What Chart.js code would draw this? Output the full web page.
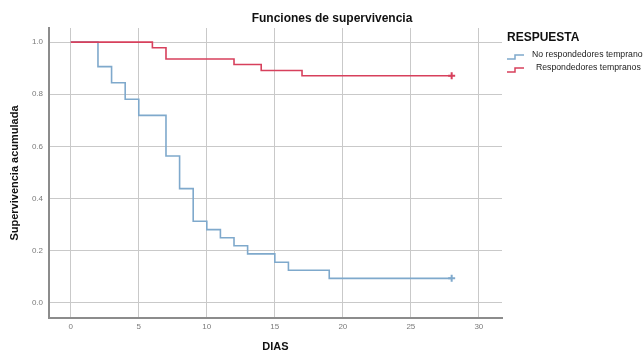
<!DOCTYPE html>
<html>
<head>
<meta charset="utf-8">
<script src="https://cdn.jsdelivr.net/npm/chart.js@4.4.1/dist/chart.umd.min.js"></script>
<style>
  html, body { margin: 0; padding: 0; background: #fff; }
  #wrap { width: 643px; height: 350px; position: relative; }
</style>
</head>
<body>
<div id="wrap"><canvas id="km"></canvas></div>
<script>
// Kaplan-Meier steps per group (day, cumulative survival)
const noRespDias = [0, 2, 3, 4, 5, 7, 8, 9, 10, 11, 12, 13, 15, 16, 19, 28];
const noRespSurv = [1.0, 0.906, 0.844, 0.781, 0.719, 0.563, 0.438, 0.313, 0.281, 0.25, 0.219, 0.188, 0.156, 0.125, 0.094, 0.094];
const respDias = [0, 6, 7, 12, 14, 17, 28];
const respSurv = [1.0, 0.978, 0.935, 0.914, 0.891, 0.871, 0.871];

const xTicks = [0, 5, 10, 15, 20, 25, 30];
const yTicks = [0.0, 0.2, 0.4, 0.6, 0.8, 1.0];

const groups = ['No respondedores tempranos', 'Respondedores tempranos'];
const colors = ['#7fa9cc', '#d7405c'];

const FONT = "'Liberation Sans', Arial, sans-serif";

const toPoints = (xs, ys) => xs.map((x, i) => ({ x: x, y: ys[i] }));

// censored mark only on the last observation
const censorRadius = (ctx) => ctx.dataIndex === ctx.dataset.data.length - 1 ? 3.5 : 0;

const textPlugin = {
  id: 'kmText',
  afterDraw(chart) {
    const c = chart.ctx;
    c.save();
    c.fillStyle = '#111';
    c.textBaseline = 'middle';
    c.font = `bold 12px ${FONT}`;
    c.textAlign = 'center';
    c.fillText('Funciones de supervivencia', 332, 19);

    // legend
    c.textAlign = 'left';
    c.font = `bold 12px ${FONT}`;
    c.fillText('RESPUESTA', 507, 38);
    c.font = `8.7px ${FONT}`;
    const rows = [{ y: 55, tx: 532 }, { y: 68, tx: 536 }];
    rows.forEach((r, i) => {
      c.strokeStyle = colors[i];
      c.lineWidth = 1.5;
      c.beginPath();
      c.moveTo(507, r.y + 4);
      c.lineTo(515, r.y + 4);
      c.lineTo(515, r.y);
      c.lineTo(524, r.y);
      c.stroke();
      c.fillStyle = '#222';
      c.fillText(groups[i], r.tx, r.y);
    });
    c.restore();
  }
};

new Chart(document.getElementById('km'), {
  type: 'line',
  data: {
    datasets: [
      {
        label: groups[0],
        data: toPoints(noRespDias, noRespSurv),
        borderColor: colors[0],
        backgroundColor: colors[0],
        borderWidth: 1.6,
        stepped: 'before',
        pointStyle: 'cross',
        pointRadius: censorRadius,
        pointBorderWidth: 2,
        order: 2
      },
      {
        label: groups[1],
        data: toPoints(respDias, respSurv),
        borderColor: colors[1],
        backgroundColor: colors[1],
        borderWidth: 1.6,
        stepped: 'before',
        pointStyle: 'cross',
        pointRadius: censorRadius,
        pointBorderWidth: 2,
        order: 1
      }
    ]
  },
  options: {
    responsive: true,
    maintainAspectRatio: false,
    animation: false,
    layout: { padding: { left: 0, right: 141, top: 28, bottom: 0 } },
    plugins: { legend: { display: false }, tooltip: { enabled: false } },
    scales: {
      x: {
        type: 'linear',
        min: -1.6,
        max: 31.7,
        afterBuildTicks: (s) => { s.ticks = xTicks.map(v => ({ value: v })); },
        afterFit: (s) => { s.height = 32; },
        grid: { color: '#c9c9c9', lineWidth: 1, drawTicks: false },
        border: { display: true, color: '#8c8c8c', width: 2 },
        ticks: { color: '#7a7a7a', font: { family: FONT, size: 8 }, padding: 4 },
        title: {
          display: true,
          text: 'DIAS',
          color: '#111',
          font: { family: FONT, size: 11, weight: 'bold' },
          padding: { top: 0, bottom: -3.5 }
        }
      },
      y: {
        min: -0.058,
        max: 1.054,
        afterBuildTicks: (s) => { s.ticks = yTicks.map(v => ({ value: v })); },
        afterFit: (s) => { s.width = 49; },
        grid: { color: '#c9c9c9', lineWidth: 1, drawTicks: false },
        border: { display: true, color: '#8c8c8c', width: 2 },
        ticks: {
          color: '#7a7a7a',
          font: { family: FONT, size: 8 },
          padding: 6,
          callback: (v) => v.toFixed(1)
        },
        title: {
          display: true,
          text: 'Supervivencia acumulada',
          color: '#111',
          font: { family: FONT, size: 11, weight: 'bold' },
          padding: { top: 8.5, bottom: 0 }
        }
      }
    }
  },
  plugins: [textPlugin]
});
</script>
</body>
</html>
